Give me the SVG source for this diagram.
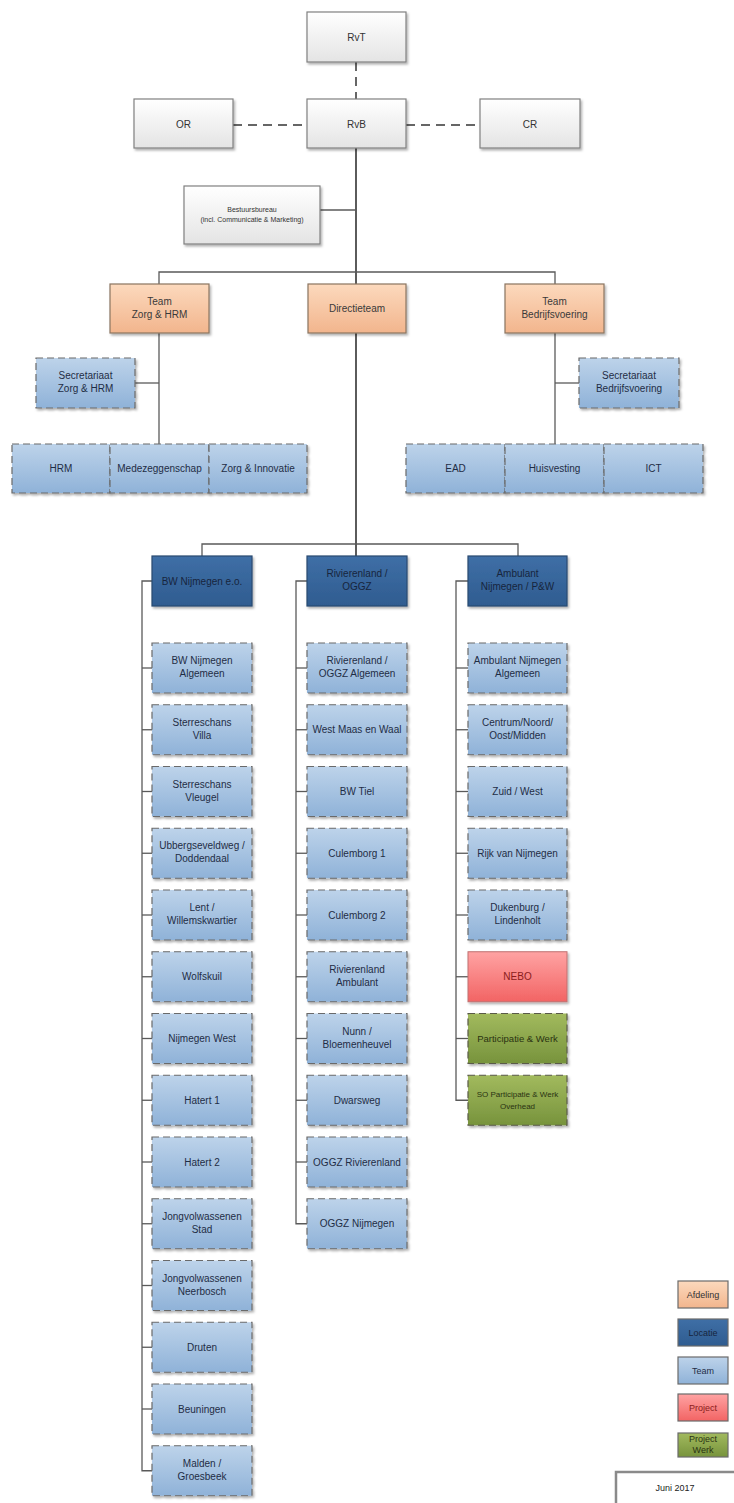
<svg xmlns="http://www.w3.org/2000/svg" width="734" height="1503" viewBox="0 0 734 1503">
<defs>
<linearGradient id="gGray" x1="0" y1="0" x2="0" y2="1"><stop offset="0" stop-color="#ffffff"/><stop offset="1" stop-color="#e4e4e4"/></linearGradient>
<linearGradient id="gAfd" x1="0" y1="0" x2="0" y2="1"><stop offset="0" stop-color="#fcd9bd"/><stop offset="1" stop-color="#f2b58d"/></linearGradient>
<linearGradient id="gLoc" x1="0" y1="0" x2="0" y2="1"><stop offset="0" stop-color="#3f6fa6"/><stop offset="1" stop-color="#2f5c90"/></linearGradient>
<linearGradient id="gTeam" x1="0" y1="0" x2="0" y2="1"><stop offset="0" stop-color="#bdd3ea"/><stop offset="1" stop-color="#8fb2d8"/></linearGradient>
<linearGradient id="gRed" x1="0" y1="0" x2="0" y2="1"><stop offset="0" stop-color="#ffa3a3"/><stop offset="1" stop-color="#f26464"/></linearGradient>
<linearGradient id="gGreen" x1="0" y1="0" x2="0" y2="1"><stop offset="0" stop-color="#a2ba5e"/><stop offset="1" stop-color="#77933c"/></linearGradient>
<filter id="sh" x="-10%" y="-10%" width="125%" height="130%"><feDropShadow dx="1.5" dy="2" stdDeviation="1.3" flood-color="#000" flood-opacity="0.3"/></filter>
</defs>
<style>
text{font-family:"Liberation Sans",Arial,sans-serif;font-size:10px;text-anchor:middle;fill:#1f2d45}
.top rect{fill:url(#gGray);stroke:#808080;stroke-width:1.2;filter:url(#sh)}
.top text{fill:#333}
.afd rect{fill:url(#gAfd);stroke:#8a7560;stroke-width:1.2;filter:url(#sh)}
.afd text{fill:#3a3a3a}
.loc rect{fill:url(#gLoc);stroke:#2a4a70;stroke-width:1.2;filter:url(#sh)}
.loc text{fill:#17253d}
.team rect{fill:url(#gTeam);stroke:#6b6b6b;stroke-width:1.2;stroke-dasharray:7,4;filter:url(#sh)}
.red rect{fill:url(#gRed);stroke:#c07070;stroke-width:1;filter:url(#sh)}
.red text{fill:#8a1c1c}
.green rect{fill:url(#gGreen);stroke:#5a5a4a;stroke-width:1.2;stroke-dasharray:7,4;filter:url(#sh)}
.green text{fill:#2a3312}
.leg rect{stroke:#6b6b6b;stroke-width:1.2}
.conn line,.conn polyline{stroke:#5a5a5a;stroke-width:1.3;fill:none}
.conn .dash{stroke:#666;stroke-width:2;stroke-dasharray:9,6}
.conn .thick{stroke:#333;stroke-width:1.6}
</style>
<rect width="734" height="1503" fill="#ffffff"/>

<g class="conn" id="connectors">
<line class="dash" x1="356" y1="62" x2="356" y2="99"/>
<line class="dash" x1="233" y1="125" x2="307" y2="125"/>
<line class="dash" x1="406" y1="125" x2="480" y2="125"/>
<line class="thick" x1="356" y1="148" x2="356" y2="284"/>
<line x1="320" y1="210" x2="356" y2="210"/>
<polyline points="159,284 159,272 555,272 555,284"/>
<line x1="159" y1="333" x2="159" y2="444"/>
<line x1="135" y1="383" x2="159" y2="383"/>
<line x1="555" y1="333" x2="555" y2="444"/>
<line x1="555" y1="383" x2="579" y2="383"/>
<line class="thick" x1="356" y1="333" x2="356" y2="556"/>
<polyline points="202,556 202,544 518,544 518,556"/>
<polyline points="152,581 142,581 142,1470.75 152,1470.75"/>
<line x1="142" y1="668" x2="152" y2="668"/>
<line x1="142" y1="729.75" x2="152" y2="729.75"/>
<line x1="142" y1="791.5" x2="152" y2="791.5"/>
<line x1="142" y1="853.25" x2="152" y2="853.25"/>
<line x1="142" y1="915" x2="152" y2="915"/>
<line x1="142" y1="976.75" x2="152" y2="976.75"/>
<line x1="142" y1="1038.5" x2="152" y2="1038.5"/>
<line x1="142" y1="1100.25" x2="152" y2="1100.25"/>
<line x1="142" y1="1162" x2="152" y2="1162"/>
<line x1="142" y1="1223.75" x2="152" y2="1223.75"/>
<line x1="142" y1="1285.5" x2="152" y2="1285.5"/>
<line x1="142" y1="1347.25" x2="152" y2="1347.25"/>
<line x1="142" y1="1409" x2="152" y2="1409"/>
<polyline points="307,581 296,581 296,1223.75 307,1223.75"/>
<line x1="296" y1="668" x2="307" y2="668"/>
<line x1="296" y1="729.75" x2="307" y2="729.75"/>
<line x1="296" y1="791.5" x2="307" y2="791.5"/>
<line x1="296" y1="853.25" x2="307" y2="853.25"/>
<line x1="296" y1="915" x2="307" y2="915"/>
<line x1="296" y1="976.75" x2="307" y2="976.75"/>
<line x1="296" y1="1038.5" x2="307" y2="1038.5"/>
<line x1="296" y1="1100.25" x2="307" y2="1100.25"/>
<line x1="296" y1="1162" x2="307" y2="1162"/>
<polyline points="468,581 456,581 456,1100.25 468,1100.25"/>
<line x1="456" y1="668" x2="468" y2="668"/>
<line x1="456" y1="729.75" x2="468" y2="729.75"/>
<line x1="456" y1="791.5" x2="468" y2="791.5"/>
<line x1="456" y1="853.25" x2="468" y2="853.25"/>
<line x1="456" y1="915" x2="468" y2="915"/>
<line x1="456" y1="976.75" x2="468" y2="976.75"/>
<line x1="456" y1="1038.5" x2="468" y2="1038.5"/>
</g>

<g id="rvt" class="top" transform="translate(307,12)"><rect width="99" height="50"/><text x="49.5" y="29">RvT</text></g>
<g id="rvb" class="top" transform="translate(307,99)"><rect width="99" height="49"/><text x="49.5" y="29">RvB</text></g>
<g id="or" class="top" transform="translate(134,99)"><rect width="99" height="49"/><text x="49.5" y="29">OR</text></g>
<g id="cr" class="top" transform="translate(480,99)"><rect width="100" height="49"/><text x="50" y="29">CR</text></g>
<g id="bestuursbureau" class="top" transform="translate(184,186)"><rect width="136" height="58"/><text x="68" style="font-size:7px"><tspan x="68" y="26">Bestuursbureau</tspan><tspan x="68" y="36">(incl. Communicatie &amp; Marketing)</tspan></text></g>

<g id="team-zorg-hrm" class="afd" transform="translate(110,284)"><rect width="99" height="49"/><text><tspan x="49.5" y="21">Team</tspan><tspan x="49.5" y="34">Zorg &amp; HRM</tspan></text></g>
<g id="directieteam" class="afd" transform="translate(308,284)"><rect width="98" height="49"/><text x="49" y="28">Directieteam</text></g>
<g id="team-bedrijfsvoering" class="afd" transform="translate(505,284)"><rect width="99" height="49"/><text><tspan x="49.5" y="21">Team</tspan><tspan x="49.5" y="34">Bedrijfsvoering</tspan></text></g>

<g id="secr-zorg" class="team" transform="translate(36,358)"><rect width="99" height="50"/><text><tspan x="49.5" y="21">Secretariaat</tspan><tspan x="49.5" y="34">Zorg &amp; HRM</tspan></text></g>
<g id="secr-bedrijf" class="team" transform="translate(579,358)"><rect width="100" height="50"/><text><tspan x="50" y="21">Secretariaat</tspan><tspan x="50" y="34">Bedrijfsvoering</tspan></text></g>

<g id="hrm" class="team" transform="translate(12,444)"><rect width="98" height="49"/><text x="49" y="28">HRM</text></g>
<g id="medezeggenschap" class="team" transform="translate(110,444)"><rect width="99" height="49"/><text x="49.5" y="28">Medezeggenschap</text></g>
<g id="zorg-innovatie" class="team" transform="translate(209,444)"><rect width="98" height="49"/><text x="49" y="28">Zorg &amp; Innovatie</text></g>
<g id="ead" class="team" transform="translate(406,444)"><rect width="99" height="49"/><text x="49.5" y="28">EAD</text></g>
<g id="huisvesting" class="team" transform="translate(505,444)"><rect width="99" height="49"/><text x="49.5" y="28">Huisvesting</text></g>
<g id="ict" class="team" transform="translate(604,444)"><rect width="99" height="49"/><text x="49.5" y="28">ICT</text></g>

<g id="loc-bw" class="loc" transform="translate(152,556)"><rect width="100" height="50"/><text x="50" y="28.5">BW Nijmegen e.o.</text></g>
<g id="loc-riv" class="loc" transform="translate(307,556)"><rect width="100" height="50"/><text><tspan x="50" y="21">Rivierenland /</tspan><tspan x="50" y="34">OGGZ</tspan></text></g>
<g id="loc-amb" class="loc" transform="translate(468,556)"><rect width="99" height="50"/><text><tspan x="49.5" y="21">Ambulant</tspan><tspan x="49.5" y="34">Nijmegen / P&amp;W</tspan></text></g>

<g id="c1-0" class="team" transform="translate(152,643)"><rect width="100" height="50"/><text><tspan x="50" y="21">BW Nijmegen</tspan><tspan x="50" y="34">Algemeen</tspan></text></g>
<g id="c1-1" class="team" transform="translate(152,704.75)"><rect width="100" height="50"/><text><tspan x="50" y="21">Sterreschans</tspan><tspan x="50" y="34">Villa</tspan></text></g>
<g id="c1-2" class="team" transform="translate(152,766.5)"><rect width="100" height="50"/><text><tspan x="50" y="21">Sterreschans</tspan><tspan x="50" y="34">Vleugel</tspan></text></g>
<g id="c1-3" class="team" transform="translate(152,828.25)"><rect width="100" height="50"/><text><tspan x="50" y="21">Ubbergseveldweg /</tspan><tspan x="50" y="34">Doddendaal</tspan></text></g>
<g id="c1-4" class="team" transform="translate(152,890)"><rect width="100" height="50"/><text><tspan x="50" y="21">Lent /</tspan><tspan x="50" y="34">Willemskwartier</tspan></text></g>
<g id="c1-5" class="team" transform="translate(152,951.75)"><rect width="100" height="50"/><text x="50" y="28.5">Wolfskuil</text></g>
<g id="c1-6" class="team" transform="translate(152,1013.5)"><rect width="100" height="50"/><text x="50" y="28.5">Nijmegen West</text></g>
<g id="c1-7" class="team" transform="translate(152,1075.25)"><rect width="100" height="50"/><text x="50" y="28.5">Hatert 1</text></g>
<g id="c1-8" class="team" transform="translate(152,1137)"><rect width="100" height="50"/><text x="50" y="28.5">Hatert 2</text></g>
<g id="c1-9" class="team" transform="translate(152,1198.75)"><rect width="100" height="50"/><text><tspan x="50" y="21">Jongvolwassenen</tspan><tspan x="50" y="34">Stad</tspan></text></g>
<g id="c1-10" class="team" transform="translate(152,1260.5)"><rect width="100" height="50"/><text><tspan x="50" y="21">Jongvolwassenen</tspan><tspan x="50" y="34">Neerbosch</tspan></text></g>
<g id="c1-11" class="team" transform="translate(152,1322.25)"><rect width="100" height="50"/><text x="50" y="28.5">Druten</text></g>
<g id="c1-12" class="team" transform="translate(152,1384)"><rect width="100" height="50"/><text x="50" y="28.5">Beuningen</text></g>
<g id="c1-13" class="team" transform="translate(152,1445.75)"><rect width="100" height="50"/><text><tspan x="50" y="21">Malden /</tspan><tspan x="50" y="34">Groesbeek</tspan></text></g>

<g id="c2-0" class="team" transform="translate(307,643)"><rect width="100" height="50"/><text><tspan x="50" y="21">Rivierenland /</tspan><tspan x="50" y="34">OGGZ Algemeen</tspan></text></g>
<g id="c2-1" class="team" transform="translate(307,704.75)"><rect width="100" height="50"/><text x="50" y="28.5">West Maas en Waal</text></g>
<g id="c2-2" class="team" transform="translate(307,766.5)"><rect width="100" height="50"/><text x="50" y="28.5">BW Tiel</text></g>
<g id="c2-3" class="team" transform="translate(307,828.25)"><rect width="100" height="50"/><text x="50" y="28.5">Culemborg 1</text></g>
<g id="c2-4" class="team" transform="translate(307,890)"><rect width="100" height="50"/><text x="50" y="28.5">Culemborg 2</text></g>
<g id="c2-5" class="team" transform="translate(307,951.75)"><rect width="100" height="50"/><text><tspan x="50" y="21">Rivierenland</tspan><tspan x="50" y="34">Ambulant</tspan></text></g>
<g id="c2-6" class="team" transform="translate(307,1013.5)"><rect width="100" height="50"/><text><tspan x="50" y="21">Nunn /</tspan><tspan x="50" y="34">Bloemenheuvel</tspan></text></g>
<g id="c2-7" class="team" transform="translate(307,1075.25)"><rect width="100" height="50"/><text x="50" y="28.5">Dwarsweg</text></g>
<g id="c2-8" class="team" transform="translate(307,1137)"><rect width="100" height="50"/><text x="50" y="28.5">OGGZ Rivierenland</text></g>
<g id="c2-9" class="team" transform="translate(307,1198.75)"><rect width="100" height="50"/><text x="50" y="28.5">OGGZ Nijmegen</text></g>

<g id="c3-0" class="team" transform="translate(468,643)"><rect width="99" height="50"/><text><tspan x="49.5" y="21">Ambulant Nijmegen</tspan><tspan x="49.5" y="34">Algemeen</tspan></text></g>
<g id="c3-1" class="team" transform="translate(468,704.75)"><rect width="99" height="50"/><text><tspan x="49.5" y="21">Centrum/Noord/</tspan><tspan x="49.5" y="34">Oost/Midden</tspan></text></g>
<g id="c3-2" class="team" transform="translate(468,766.5)"><rect width="99" height="50"/><text x="49.5" y="28.5">Zuid / West</text></g>
<g id="c3-3" class="team" transform="translate(468,828.25)"><rect width="99" height="50"/><text x="49.5" y="28.5">Rijk van Nijmegen</text></g>
<g id="c3-4" class="team" transform="translate(468,890)"><rect width="99" height="50"/><text><tspan x="49.5" y="21">Dukenburg /</tspan><tspan x="49.5" y="34">Lindenholt</tspan></text></g>
<g id="c3-5" class="red" transform="translate(468,951.75)"><rect width="99" height="50"/><text x="49.5" y="28.5">NEBO</text></g>
<g id="c3-6" class="green" transform="translate(468,1013.5)"><rect width="99" height="50"/><text x="49.5" y="28.5" style="font-size:9.5px">Participatie &amp; Werk</text></g>
<g id="c3-7" class="green" transform="translate(468,1075.25)"><rect width="99" height="50"/><text style="font-size:8px"><tspan x="49.5" y="21.5">SO Participatie &amp; Werk</tspan><tspan x="49.5" y="34">Overhead</tspan></text></g>

<g id="legend-afdeling" class="leg" transform="translate(678,1281)"><rect width="50" height="27" fill="url(#gAfd)"/><text x="25" y="17" style="font-size:9px;fill:#333">Afdeling</text></g>
<g id="legend-locatie" class="leg" transform="translate(678,1319)"><rect width="50" height="27" fill="url(#gLoc)"/><text x="25" y="17" style="font-size:9px;fill:#17253d">Locatie</text></g>
<g id="legend-team" class="leg" transform="translate(678,1357)"><rect width="50" height="27" fill="url(#gTeam)"/><text x="25" y="17" style="font-size:9px">Team</text></g>
<g id="legend-project" class="leg" transform="translate(678,1394)"><rect width="50" height="27" fill="url(#gRed)"/><text x="25" y="17" style="font-size:9px;fill:#8a1c1c">Project</text></g>
<g id="legend-projectwerk" class="leg" transform="translate(678,1433)"><rect width="50" height="24" fill="url(#gGreen)"/><text style="font-size:9px;fill:#2a3312"><tspan x="25" y="9">Project</tspan><tspan x="25" y="20">Werk</tspan></text></g>

<g id="datum" transform="translate(616,1472)"><rect width="130" height="40" fill="#ffffff" stroke="#8a8a8a" stroke-width="2.5" filter="url(#sh)"/><text x="59" y="19" style="font-size:9px;fill:#222">Juni 2017</text></g>
</svg>
